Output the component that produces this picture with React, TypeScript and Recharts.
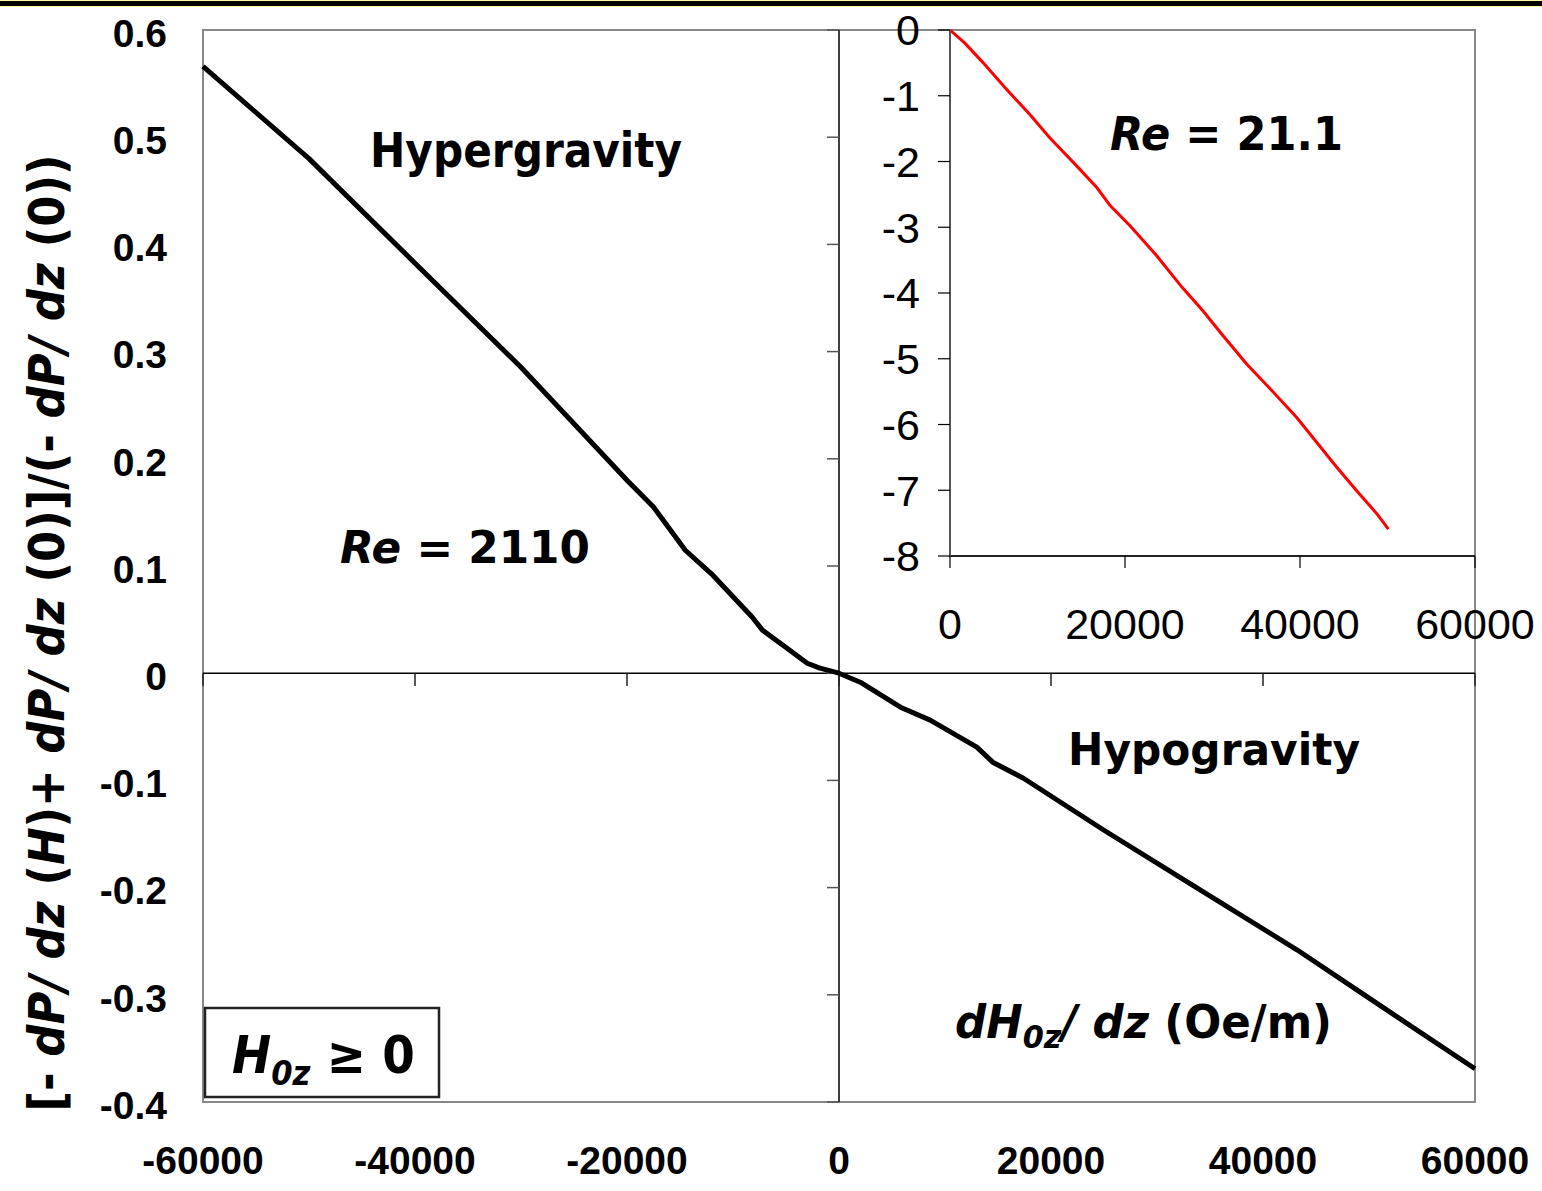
import React from 'react'
import { LineChart, Line, XAxis, YAxis, ReferenceLine, ReferenceArea } from 'recharts'

// main curve, Re = 2110
const mainX = [-60000, -50000, -40000, -30000, -20000, -17500, -14500, -11900, -8200, -7200, -4900, -3000, -1800, 0, 2000, 5800, 8600, 13000, 14500, 17400, 25000, 33800, 43200, 51000, 60000]
const mainY = [0.566, 0.48, 0.3825, 0.2854, 0.18, 0.155, 0.1147, 0.0914, 0.0524, 0.04, 0.0233, 0.0093, 0.0047, 0, -0.0084, -0.0317, -0.0438, -0.069, -0.083, -0.098, -0.1465, -0.2006, -0.258, -0.3097, -0.369]

// inset curve, Re = 21.1
const insetX = [0, 1700, 3800, 6300, 9100, 11400, 14500, 16800, 18300, 20600, 23600, 26500, 28900, 30900, 33900, 36400, 39600, 41900, 44200, 46500, 48800, 50100]
const insetY = [0, -0.2, -0.5, -0.88, -1.28, -1.64, -2.07, -2.4, -2.67, -2.98, -3.43, -3.91, -4.27, -4.6, -5.08, -5.43, -5.89, -6.27, -6.65, -7.01, -7.36, -7.59]

const mainXTicks = [-60000, -40000, -20000, 0, 20000, 40000, 60000]
const mainYTicks = [-0.4, -0.3, -0.2, -0.1, 0, 0.1, 0.2, 0.3, 0.4, 0.5, 0.6]
const insetXTicks = [0, 20000, 40000, 60000]
const insetYTicks = [-8, -7, -6, -5, -4, -3, -2, -1, 0]

const mainData = mainX.map((x, i) => ({ x, y: mainY[i] }))
const insetData = insetX.map((x, i) => ({ x, y: insetY[i] }))

const ARIAL = '"Liberation Sans", Arial, sans-serif'
const TAHOMA = '"DejaVu Sans", Verdana, sans-serif'

const boldTick = { fontFamily: ARIAL, fontSize: 39, fontWeight: 'bold', fill: '#000' }
const insetTick = { fontFamily: ARIAL, fontSize: 43, fill: '#000' }

function MainChart() {
  return (
    <LineChart width={1542} height={1191} data={mainData} margin={{ top: 30, right: 67, bottom: 0, left: 0 }}>
      <XAxis
        type="number"
        dataKey="x"
        domain={[-60000, 60000]}
        ticks={mainXTicks}
        height={89}
        axisLine={false}
        tickLine={false}
        tickSize={0}
        tickMargin={44}
        tick={boldTick}
      />
      <YAxis
        type="number"
        domain={[-0.4, 0.6]}
        ticks={mainYTicks}
        width={203}
        axisLine={false}
        tickLine={false}
        tickSize={0}
        tickMargin={36}
        tick={{ ...boldTick, dy: 3 }}
        tickFormatter={(v: number) => (v === 0 ? '0' : v.toFixed(1))}
      />
      <ReferenceArea x1={-60000} x2={60000} y1={-0.4} y2={0.6} fill="none" stroke="#888" strokeWidth={2} ifOverflow="visible" />
      <ReferenceLine x={0} stroke="#000" strokeWidth={1.5} />
      <ReferenceLine y={0} stroke="#000" strokeWidth={1.5} />
      {mainXTicks.map((t) => (
        <ReferenceLine key={'xt' + t} segment={[{ x: t, y: 0 }, { x: t, y: -0.012 }]} stroke="#222" strokeWidth={1.5} ifOverflow="visible" />
      ))}
      {mainYTicks.map((t) => (
        <ReferenceLine key={'yt' + t} segment={[{ x: -1130, y: t }, { x: 0, y: t }]} stroke="#555" strokeWidth={1.5} ifOverflow="visible" />
      ))}
      <Line type="linear" dataKey="y" stroke="#000" strokeWidth={5} strokeLinejoin="round" dot={false} isAnimationActive={false} />
    </LineChart>
  )
}

function InsetChart() {
  return (
    <LineChart width={702} height={656} data={insetData} margin={{ top: 30, right: 67, bottom: 0, left: 0 }}>
      <XAxis
        type="number"
        dataKey="x"
        domain={[0, 60000]}
        ticks={insetXTicks}
        height={100}
        axisLine={{ stroke: '#000', strokeWidth: 1.5 }}
        tickLine={{ stroke: '#000', strokeWidth: 1.2 }}
        tickSize={12}
        tickMargin={40}
        tick={insetTick}
      />
      <YAxis
        type="number"
        domain={[-8, 0]}
        ticks={insetYTicks}
        width={110}
        axisLine={{ stroke: '#555', strokeWidth: 2 }}
        tickLine={{ stroke: '#000', strokeWidth: 1.2 }}
        tickSize={12}
        tickMargin={18}
        tick={insetTick}
      />
      <ReferenceArea x1={0} x2={60000} y1={-8} y2={0} fill="none" stroke="#888" strokeWidth={2} ifOverflow="visible" />
      <Line type="linear" dataKey="y" stroke="#ff0000" strokeWidth={3} dot={false} isAnimationActive={false} />
    </LineChart>
  )
}

function Annotations() {
  const t = { fontFamily: TAHOMA, fontWeight: 'bold' as const, fill: '#000' }
  return (
    <svg width={1542} height={1191} style={{ position: 'absolute', left: 0, top: 0, pointerEvents: 'none' }}>
      <text x={370} y={167} fontSize={48} textLength={312} lengthAdjust="spacingAndGlyphs" {...t}>Hypergravity</text>
      <text x={340} y={563} fontSize={45} textLength={250} lengthAdjust="spacingAndGlyphs" {...t}>
        <tspan fontStyle="italic">Re</tspan>
        <tspan>{' = 2110'}</tspan>
      </text>
      <text x={1110} y={150} fontSize={46} textLength={233} lengthAdjust="spacingAndGlyphs" {...t}>
        <tspan fontStyle="italic">Re</tspan>
        <tspan>{' = 21.1'}</tspan>
      </text>
      <text x={1068} y={765} fontSize={45} textLength={292} lengthAdjust="spacingAndGlyphs" {...t}>Hypogravity</text>
      <text x={955} y={1038} fontSize={46} textLength={377} lengthAdjust="spacingAndGlyphs" {...t}>
        <tspan fontStyle="italic">dH</tspan>
        <tspan fontStyle="italic" fontSize={32} dy={10}>0z</tspan>
        <tspan fontStyle="italic" dy={-10}>{'/ dz'}</tspan>
        <tspan>{' (Oe/m)'}</tspan>
      </text>

      <rect x={205} y={1008} width={234} height={89} fill="#fff" stroke="#222" strokeWidth={2.5} />
      <text x={232} y={1073} fontSize={52} textLength={183} lengthAdjust="spacingAndGlyphs" {...t}>
        <tspan fontStyle="italic">H</tspan>
        <tspan fontStyle="italic" fontSize={34} dy={12}>0z</tspan>
        <tspan dy={-12}>{' ≥ 0'}</tspan>
      </text>

      <text transform="translate(64,633) rotate(-90)" textAnchor="middle" fontSize={50} textLength={957} lengthAdjust="spacingAndGlyphs" {...t}>
        <tspan>{'[- '}</tspan>
        <tspan fontStyle="italic">{'dP/ dz'}</tspan>
        <tspan>{' ('}</tspan>
        <tspan fontStyle="italic">H</tspan>
        <tspan>{')+ '}</tspan>
        <tspan fontStyle="italic">{'dP/ dz'}</tspan>
        <tspan>{' (0)]/(- '}</tspan>
        <tspan fontStyle="italic">{'dP/ dz'}</tspan>
        <tspan>{' (0))'}</tspan>
      </text>
    </svg>
  )
}

export default function App() {
  return (
    <div style={{ position: 'absolute', left: 0, top: 0, width: 1542, height: 1191, background: '#fff', overflow: 'hidden' }}>
      <div style={{ position: 'absolute', left: 0, top: 0, width: 1542, height: 7, background: '#000', borderTop: '1px solid #ffff99', borderBottom: '1px solid #ffff99', boxSizing: 'border-box' }} />
      <div style={{ position: 'absolute', left: 0, top: 0 }}>
        <MainChart />
      </div>
      <div style={{ position: 'absolute', left: 840, top: 0 }}>
        <InsetChart />
      </div>
      <Annotations />
    </div>
  )
}
